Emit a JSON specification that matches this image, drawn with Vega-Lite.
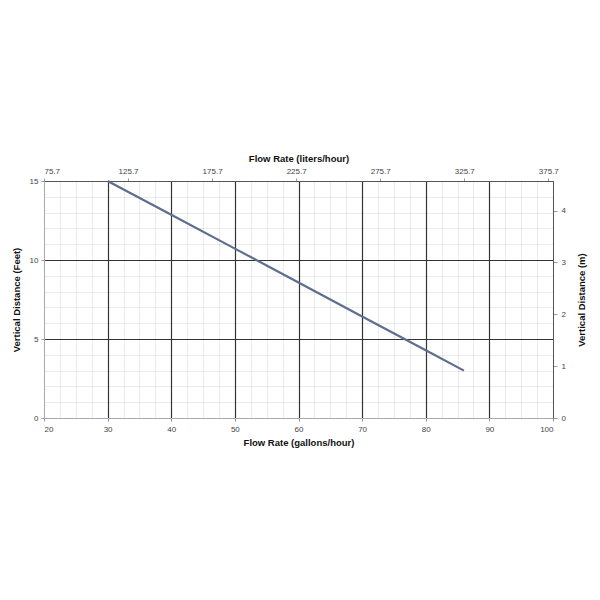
{
  "$schema": "https://vega.github.io/schema/vega-lite/v6.json",
  "autosize": "none",
  "width": 509,
  "height": 237,
  "padding": {"left": 44, "top": 181, "right": 47, "bottom": 182},
  "background": "white",
  "config": {
    "font": "Liberation Sans",
    "view": {"stroke": null},
    "axis": {"labelFont": "Liberation Sans", "titleFont": "Liberation Sans", "labelFontSize": 8, "labelColor": "#444", "titleFontSize": 9.5, "titleFontWeight": "bold", "titleColor": "#111"}
  },
  "layer": [
    {
      "data": {"values": [
        {"gph": 30, "feet": 15.0},
        {"gph": 40, "feet": 12.86},
        {"gph": 50, "feet": 10.72},
        {"gph": 60, "feet": 8.58},
        {"gph": 70, "feet": 6.43},
        {"gph": 80, "feet": 4.29},
        {"gph": 86, "feet": 3.0}
      ]},
      "mark": {"type": "line", "color": "#5d6e8e", "strokeWidth": 2.2},
      "encoding": {
        "x": {"field": "gph", "type": "quantitative",
          "scale": {"domain": [20, 100], "nice": false, "zero": false},
          "axis": {"orient": "bottom", "title": "Flow Rate (gallons/hour)",
            "values": [20,22.5,25,27.5,30,32.5,35,37.5,40,42.5,45,47.5,50,52.5,55,57.5,60,62.5,65,67.5,70,72.5,75,77.5,80,82.5,85,87.5,90,92.5,95,97.5,100],
            "labelExpr": "datum.value % 10 === 0 ? datum.label : ''",
            "labelPadding": 4, "titlePadding": 4,
            "tickSize": 3, "tickColor": "#999",
            "tickOpacity": {"condition": {"test": "datum.value % 10 === 0", "value": 1}, "value": 0},
            "domainColor": "#aaa",
            "grid": true,
            "gridColor": {"condition": {"test": "datum.value % 10 === 0 && datum.value > 20 && datum.value < 100", "value": "#333"}, "value": "#000"},
            "gridOpacity": {"condition": {"test": "datum.value % 10 === 0 && datum.value > 20 && datum.value < 100", "value": 1}, "value": 0.08},
            "gridWidth": {"condition": {"test": "datum.value % 10 === 0", "value": 1.2}, "value": 1}
          }},
        "y": {"field": "feet", "type": "quantitative",
          "scale": {"domain": [0, 15], "nice": false},
          "axis": {"orient": "left", "title": "Vertical Distance (Feet)",
            "values": [0,1,2,3,4,5,6,7,8,9,10,11,12,13,14,15],
            "labelExpr": "datum.value % 5 === 0 ? datum.label : ''",
            "labelPadding": 3, "titlePadding": 8,
            "tickSize": 3, "tickColor": "#999",
            "tickOpacity": {"condition": {"test": "datum.value % 5 === 0", "value": 1}, "value": 0},
            "domainColor": "#aaa",
            "grid": true,
            "gridColor": {"condition": {"test": "datum.value % 5 === 0 && datum.value > 0", "value": "#333"}, "value": "#000"},
            "gridOpacity": {"condition": {"test": "datum.value % 5 === 0 && datum.value > 0", "value": 1}, "value": 0.08},
            "gridWidth": {"condition": {"test": "datum.value % 5 === 0", "value": 1.2}, "value": 1}
          }}
      }
    },
    {
      "data": {"values": [
        {"liters": 75.7, "meters": 0},
        {"liters": 378.5, "meters": 4.572}
      ]},
      "mark": {"type": "point", "opacity": 0},
      "encoding": {
        "x": {"field": "liters", "type": "quantitative",
          "scale": {"domain": [75.7, 378.5], "nice": false, "zero": false},
          "axis": {"orient": "top", "title": "Flow Rate (liters/hour)",
            "values": [75.7, 125.7, 175.7, 225.7, 275.7, 325.7, 375.7],
            "format": ".1f", "grid": false,
            "labelPadding": 3, "titlePadding": 4,
            "tickSize": 3, "tickColor": "#999", "domainColor": "#555"}},
        "y": {"field": "meters", "type": "quantitative",
          "scale": {"domain": [0, 4.572], "nice": false},
          "axis": {"orient": "right", "title": "Vertical Distance (m)",
            "values": [0, 1, 2, 3, 4], "grid": false,
            "titleAngle": 270, "titleBaseline": "bottom",
            "labelPadding": 4, "titlePadding": 21,
            "tickSize": 4, "tickColor": "#999", "domainColor": "#555"}}
      }
    }
  ],
  "resolve": {"scale": {"x": "independent", "y": "independent"}}
}
